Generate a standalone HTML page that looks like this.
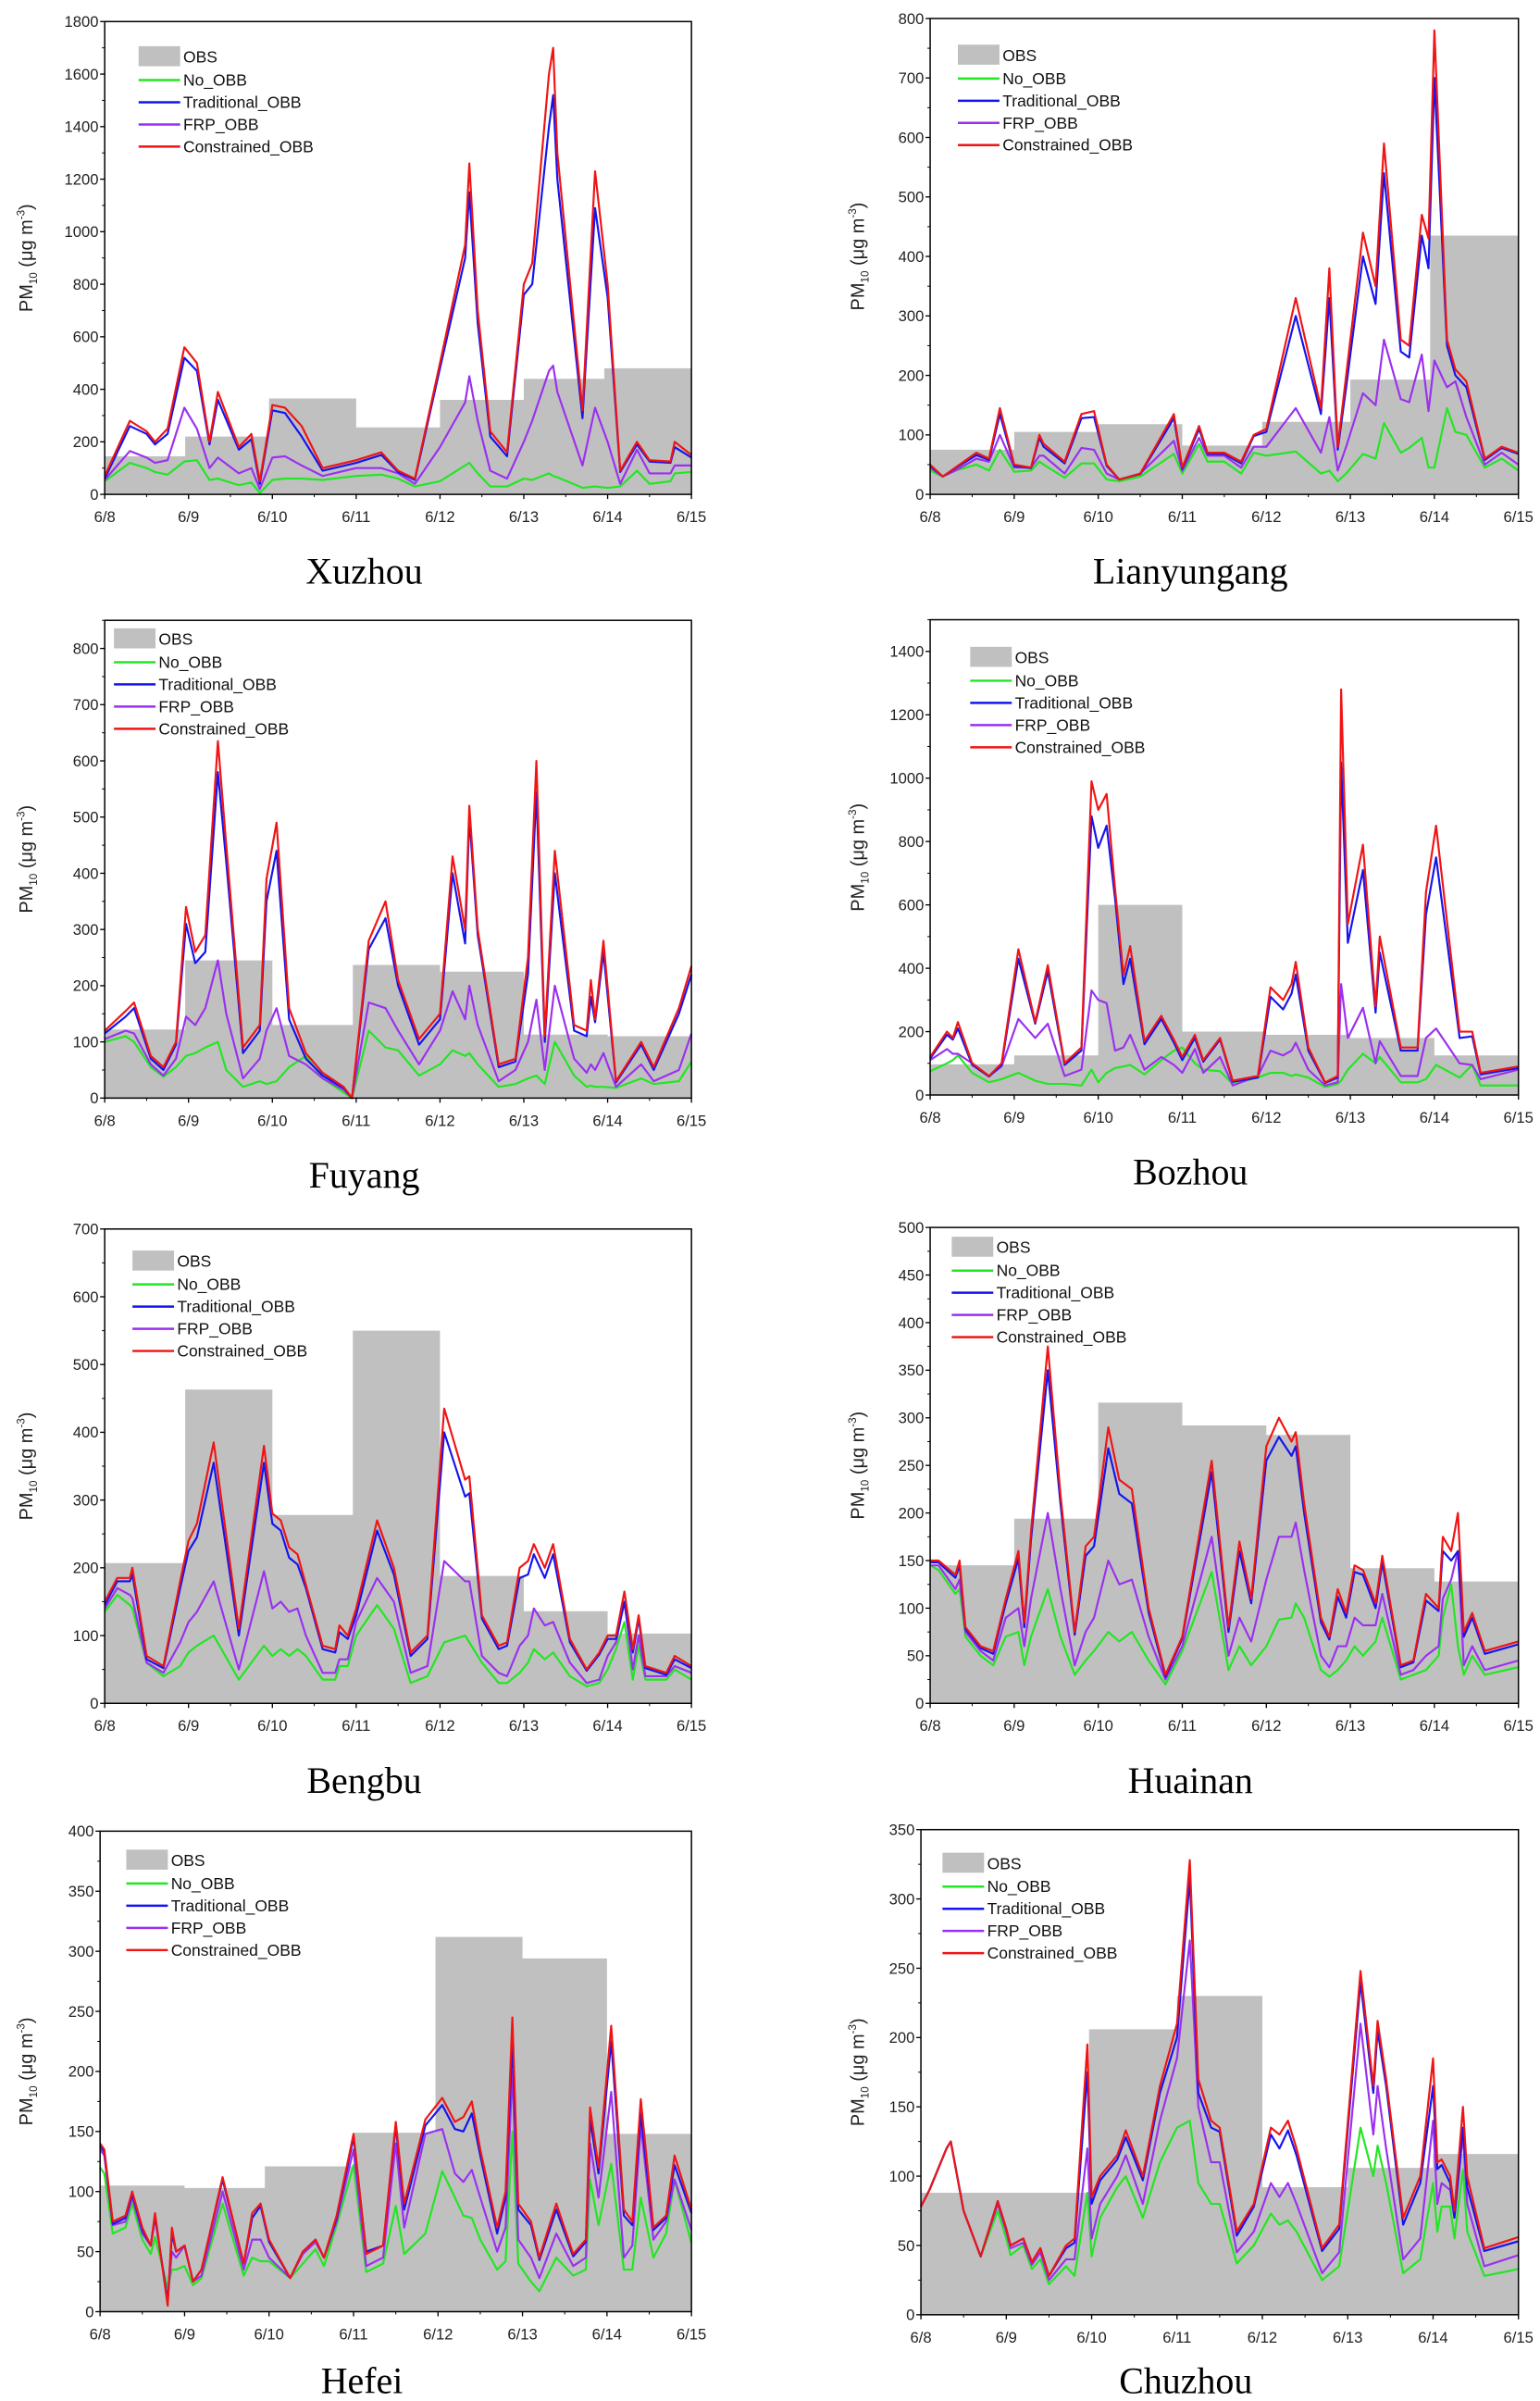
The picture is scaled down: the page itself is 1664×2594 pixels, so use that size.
<!DOCTYPE html>
<html><head><meta charset="utf-8"><style>
html,body{margin:0;padding:0;background:#fff;}
svg{display:block;}
</style></head><body>
<svg id="fig" xmlns="http://www.w3.org/2000/svg" width="1664" height="2594" viewBox="0 0 1000 1559" preserveAspectRatio="none"></svg>
<script>
// ===== Data (time in days since 6/8, PM10 values) =====
const xTickLabels = ["6/8","6/9","6/10","6/11","6/12","6/13","6/14","6/15"];
const seriesNames = ["OBS","No_OBB","Traditional_OBB","FRP_OBB","Constrained_OBB"];

const xuzhouT = [0,.3,.5,.6,.75,.95,1.1,1.25,1.35,1.6,1.75,1.85,2.0,2.15,2.35,2.6,3.0,3.3,3.5,3.7,4.0,4.3,4.35,4.45,4.6,4.8,5.0,5.1,5.3,5.35,5.4,5.7,5.85,6.0,6.15,6.35,6.5,6.75,6.8,7.0];
const xuzhouCon = [70,280,240,200,250,560,500,200,390,180,230,50,340,330,260,100,130,160,90,60,500,950,1260,700,240,160,800,880,1600,1700,1300,320,1230,800,90,200,130,125,200,150];
const xuzhouTrad = [60,260,230,190,230,520,470,190,360,170,210,40,320,310,220,90,120,150,85,55,480,900,1150,650,220,145,760,800,1400,1520,1200,290,1090,750,85,190,125,120,180,140];
const xuzhouFrp = [55,165,140,120,130,330,250,100,140,80,100,20,140,145,110,70,100,100,80,40,180,350,450,280,90,60,200,280,470,490,390,110,330,200,40,170,80,80,110,110];
const xuzhouNo = [50,120,100,85,75,125,130,55,60,35,45,5,55,60,60,55,70,75,60,30,50,110,120,80,30,30,60,55,80,70,65,25,30,25,30,90,40,50,80,85];
const xuzhouObsStart = [0,0.96,1.96,3.0,4.0,5.0,5.96];
const xuzhouObs = [145,220,365,255,360,440,480];

const lianT = [0,.15,.3,.55,.7,.83,1.0,1.2,1.3,1.35,1.6,1.8,1.95,2.1,2.25,2.5,2.9,3.0,3.2,3.3,3.5,3.7,3.85,4.0,4.35,4.65,4.75,4.85,4.95,5.15,5.3,5.4,5.6,5.7,5.85,5.93,6.0,6.15,6.25,6.38,6.6,6.8,7.0];
const lianCon = [50,30,45,70,60,145,50,45,100,85,55,135,140,50,25,35,135,45,115,70,70,55,100,110,330,145,380,80,200,440,350,590,260,250,470,430,780,260,210,190,60,80,70];
const lianTrad = [48,30,44,66,58,135,48,44,95,80,52,128,130,48,25,34,128,43,110,68,68,52,98,105,300,135,330,75,180,400,320,540,240,230,435,380,700,250,200,180,58,78,68];
const lianFrp = [45,30,40,60,55,100,45,45,65,65,35,78,75,35,25,35,90,40,95,65,65,45,80,80,145,70,130,40,80,170,150,260,160,155,235,140,225,180,190,130,50,70,50];
const lianNo = [40,30,40,50,40,75,38,40,55,50,28,52,52,25,22,30,68,35,85,55,55,35,70,65,72,35,40,22,35,68,60,120,70,78,95,45,45,145,105,100,45,60,40];
const lianObsStart = [0,1,2,3,3.95,5,5.95];
const lianObs = [75,105,118,82,122,193,435];

const fuyangT = [0,.25,.35,.55,.7,.85,.97,1.08,1.2,1.35,1.45,1.65,1.85,1.93,2.05,2.2,2.4,2.6,2.85,2.95,3.15,3.35,3.5,3.75,4.0,4.15,4.3,4.35,4.45,4.7,4.9,5.05,5.15,5.25,5.37,5.6,5.75,5.8,5.85,5.95,6.1,6.4,6.55,6.85,7.0];
const fuyangCon = [120,155,170,75,55,100,340,260,290,635,450,90,130,390,490,160,80,45,20,0,280,350,210,105,150,430,300,520,300,60,70,250,600,110,440,130,120,210,140,280,30,100,55,160,235];
const fuyangTrad = [115,145,160,70,50,95,310,240,260,580,420,80,120,350,440,140,70,40,18,0,265,320,200,95,140,400,275,500,290,55,65,220,545,100,400,120,110,180,135,260,28,95,50,150,220];
const fuyangFrp = [105,120,115,60,40,70,145,130,160,245,150,35,70,120,160,75,60,35,15,0,170,160,120,60,120,190,140,200,130,30,50,100,175,50,200,70,45,60,50,80,20,60,30,50,115];
const fuyangNo = [100,110,100,55,38,55,75,80,90,100,50,20,30,25,30,55,75,35,10,0,120,90,85,40,60,85,75,80,60,20,25,35,40,25,100,40,20,22,20,20,18,35,25,30,65];
const fuyangObsStart = [0,0.96,2.0,2.96,4.0,5.0,6.0];
const fuyangObs = [122,245,130,237,225,113,110];

const bozhouT = [0,.2,.27,.33,.5,.7,.85,1.05,1.25,1.4,1.6,1.8,1.92,2.0,2.1,2.2,2.3,2.38,2.55,2.75,2.9,3.0,3.15,3.25,3.45,3.6,3.9,4.05,4.2,4.3,4.35,4.5,4.7,4.85,4.89,4.97,5.15,5.3,5.35,5.6,5.8,5.9,6.02,6.3,6.45,6.55,7.0];
const bozhouCon = [120,200,180,230,100,60,100,460,230,410,100,150,990,900,950,650,380,470,170,250,175,120,190,110,180,45,60,340,300,350,420,150,40,60,1280,540,790,280,500,150,150,640,850,200,200,70,90];
const bozhouTrad = [115,190,175,210,95,58,95,430,225,390,95,140,880,780,850,620,350,430,160,240,165,110,180,105,175,42,55,310,270,320,380,140,38,55,1050,480,710,260,450,140,140,570,750,180,185,65,85];
const bozhouFrp = [110,145,130,130,100,60,90,240,180,225,60,80,330,300,290,140,150,190,80,120,95,70,145,70,120,30,60,140,125,140,165,80,30,40,350,180,275,100,170,60,60,180,210,100,95,50,80];
const bozhouNo = [75,100,110,125,70,40,50,70,45,35,35,30,80,40,70,85,90,95,65,110,140,150,100,80,75,35,55,70,70,60,65,55,25,35,45,80,130,100,120,40,40,50,95,55,95,30,30];
const bozhouObsStart = [0,1,2,3,4,5,6];
const bozhouObs = [97,125,600,200,190,180,125];

const bengbuT = [0,.15,.3,.33,.5,.7,.9,1.0,1.1,1.3,1.6,1.9,2.0,2.1,2.2,2.3,2.4,2.6,2.75,2.8,2.9,3.0,3.25,3.45,3.65,3.85,4.05,4.3,4.35,4.5,4.7,4.8,4.95,5.05,5.12,5.25,5.35,5.55,5.75,5.9,6.0,6.1,6.2,6.3,6.37,6.45,6.7,6.8,7.0];
const bengbuCon = [150,185,185,200,70,55,180,240,265,385,110,380,280,270,230,220,175,85,80,115,100,140,270,200,75,100,435,330,335,130,85,90,200,210,235,200,235,95,50,75,100,100,165,80,130,55,45,70,55];
const bengbuTrad = [145,180,180,190,65,52,170,225,245,355,100,355,265,255,215,205,170,80,75,105,95,130,255,190,70,95,400,305,310,125,80,85,185,190,220,185,220,90,48,72,95,95,150,75,125,52,42,65,52];
const bengbuFrp = [140,170,160,155,60,45,90,120,135,180,50,195,140,150,135,140,100,45,45,65,65,120,185,150,45,55,210,180,180,70,45,40,85,100,140,115,120,60,30,35,70,90,150,50,100,40,40,55,45];
const bengbuNo = [135,160,145,140,60,40,55,75,85,100,35,85,70,80,70,80,70,35,35,55,55,100,145,110,30,40,90,100,90,60,30,30,45,60,80,65,75,40,25,30,50,80,120,35,85,35,35,50,35];
const bengbuObsStart = [0,0.96,2.0,2.96,4.0,5.0,6.0];
const bengbuObs = [207,463,278,550,188,136,103];

const huainanT = [0,.1,.3,.35,.42,.6,.75,.9,1.05,1.12,1.2,1.4,1.55,1.72,1.85,1.95,2.12,2.25,2.4,2.6,2.8,3.0,3.35,3.55,3.68,3.82,4.0,4.15,4.3,4.35,4.45,4.65,4.75,4.85,4.95,5.05,5.15,5.3,5.38,5.6,5.75,5.9,6.05,6.1,6.2,6.28,6.35,6.45,6.6,7.0];
const huainanCon = [150,150,135,150,80,60,55,110,160,85,180,375,220,75,165,175,290,235,225,100,30,70,255,80,170,110,270,300,275,285,210,90,70,120,95,145,140,105,155,40,45,115,100,175,160,200,75,95,55,65];
const huainanTrad = [148,148,132,145,78,58,52,105,152,80,172,350,210,72,155,165,268,220,210,95,28,68,243,75,160,105,255,280,260,270,200,85,67,112,90,138,135,100,148,38,43,108,97,160,150,160,70,90,52,62];
const huainanFrp = [145,145,120,130,75,55,45,90,100,60,110,200,120,40,75,90,150,125,130,70,25,60,175,50,90,65,130,175,175,190,140,50,38,60,60,90,82,82,115,30,35,50,60,110,130,160,40,60,35,45];
const huainanNo = [145,140,115,120,70,50,40,70,75,40,70,120,70,30,45,55,75,65,75,45,20,55,138,35,60,40,60,88,90,105,90,35,28,35,45,60,50,65,90,25,30,35,50,90,125,60,30,50,30,38];
const huainanObsStart = [0,1,2,3,4,5,6];
const huainanObs = [145,194,316,292,282,142,128];

const hefeiT = [0,.05,.15,.3,.38,.5,.6,.65,.8,.85,.9,1.0,1.1,1.2,1.45,1.7,1.8,1.9,2.0,2.25,2.4,2.55,2.65,2.8,3.0,3.15,3.35,3.5,3.6,3.85,4.05,4.2,4.3,4.4,4.5,4.7,4.8,4.88,4.95,5.1,5.2,5.4,5.6,5.75,5.8,5.9,6.05,6.2,6.3,6.4,6.55,6.7,6.8,7.0];
const hefeiCon = [140,135,75,80,100,70,55,82,5,70,50,55,25,35,112,40,82,90,60,28,50,60,45,80,148,48,55,158,90,160,178,158,162,175,135,70,100,245,90,75,45,90,48,60,170,120,238,85,75,177,70,80,130,85];
const hefeiTrad = [138,133,73,78,98,68,55,80,8,65,50,55,25,35,110,40,78,88,58,28,50,60,45,78,145,50,55,155,85,155,172,152,150,165,130,65,95,225,85,72,43,85,46,58,160,115,225,80,72,165,68,78,122,82];
const hefeiFrp = [135,130,72,75,95,65,55,78,10,50,45,55,25,30,100,35,60,60,45,28,48,58,45,75,135,38,45,140,70,148,152,115,108,118,95,50,70,200,60,45,28,65,38,45,140,95,183,45,55,155,60,75,110,68];
const hefeiNo = [120,115,65,70,90,60,48,62,20,35,35,38,22,28,90,30,45,42,42,28,40,52,38,72,122,33,40,88,48,65,117,95,80,78,60,35,42,150,40,25,17,45,30,35,110,72,123,35,35,95,45,65,110,57];
const hefeiObsStart = [0,1,1.95,3.0,3.97,5.0,6.0];
const hefeiObs = [105,103,121,149,312,294,148];

const chuzhouT = [0,.1,.3,.35,.5,.7,.9,1.0,1.05,1.2,1.3,1.4,1.5,1.7,1.8,1.95,2.0,2.1,2.3,2.4,2.6,2.8,3.0,3.15,3.25,3.4,3.5,3.7,3.9,4.1,4.2,4.3,4.4,4.7,4.9,5.15,5.3,5.35,5.45,5.65,5.85,6.0,6.05,6.1,6.2,6.25,6.35,6.4,6.6,7.0];
const chuzhouCon = [78,90,120,125,75,42,82,62,50,55,38,48,28,50,55,195,85,100,115,133,100,165,210,328,170,140,135,60,80,135,130,140,120,48,65,248,165,212,170,70,100,185,110,112,100,75,150,100,48,56];
const chuzhouTrad = [78,90,120,125,75,42,82,62,50,55,38,48,28,48,52,175,80,97,112,128,97,160,200,315,160,135,132,57,78,130,120,133,115,46,62,240,160,205,165,65,95,165,105,108,95,70,135,92,46,53];
const chuzhouFrp = [78,90,120,125,75,42,80,60,48,52,36,45,25,40,40,120,55,80,100,115,80,140,185,270,150,110,110,45,60,95,85,95,80,30,45,210,130,165,120,40,55,140,80,95,90,70,130,80,35,43];
const chuzhouNo = [78,90,120,125,75,42,75,55,43,50,33,40,22,35,28,88,42,70,92,100,70,110,135,140,95,80,80,37,50,73,65,68,60,25,35,135,100,122,95,30,40,95,60,78,78,55,105,60,28,33];
const chuzhouObsStart = [0,1.97,3.0,4.0,5.0,6.0];
const chuzhouObs = [88,206,230,92,106,116];

// ===== Layout (thumbnail units; viewBox 1000x1559) =====
const panels = [
 {id:"xuzhou",title:"Xuzhou",x0:68,x1:449,yT:14,yB:321,ymax:1800,step:200,lx:90,ly:30,tdy:58,t:xuzhouT,no:xuzhouNo,tr:xuzhouTrad,frp:xuzhouFrp,con:xuzhouCon,os:xuzhouObsStart,ov:xuzhouObs},
 {id:"lianyungang",title:"Lianyungang",x0:604,x1:986,yT:12,yB:321,ymax:800,step:100,lx:622,ly:29,tdy:58,t:lianT,no:lianNo,tr:lianTrad,frp:lianFrp,con:lianCon,os:lianObsStart,ov:lianObs},
 {id:"fuyang",title:"Fuyang",x0:68,x1:449,yT:402.8,yB:713,ymax:850,step:100,lx:74,ly:408,tdy:58,t:fuyangT,no:fuyangNo,tr:fuyangTrad,frp:fuyangFrp,con:fuyangCon,os:fuyangObsStart,ov:fuyangObs},
 {id:"bozhou",title:"Bozhou",x0:604,x1:986,yT:402.4,yB:711,ymax:1500,step:200,lx:630,ly:420,tdy:58,t:bozhouT,no:bozhouNo,tr:bozhouTrad,frp:bozhouFrp,con:bozhouCon,os:bozhouObsStart,ov:bozhouObs},
 {id:"bengbu",title:"Bengbu",x0:68,x1:449,yT:798,yB:1106,ymax:700,step:100,lx:86,ly:812,tdy:58,t:bengbuT,no:bengbuNo,tr:bengbuTrad,frp:bengbuFrp,con:bengbuCon,os:bengbuObsStart,ov:bengbuObs},
 {id:"huainan",title:"Huainan",x0:604,x1:986,yT:797,yB:1106,ymax:500,step:50,lx:618,ly:803,tdy:58,t:huainanT,no:huainanNo,tr:huainanTrad,frp:huainanFrp,con:huainanCon,os:huainanObsStart,ov:huainanObs},
 {id:"hefei",title:"Hefei",x0:65,x1:449,yT:1189,yB:1501,ymax:400,step:50,lx:82,ly:1201,tdy:53,t:hefeiT,no:hefeiNo,tr:hefeiTrad,frp:hefeiFrp,con:hefeiCon,os:hefeiObsStart,ov:hefeiObs},
 {id:"chuzhou",title:"Chuzhou",x0:598,x1:986,yT:1188,yB:1503,ymax:350,step:50,lx:612,ly:1203,tdy:51,t:chuzhouT,no:chuzhouNo,tr:chuzhouTrad,frp:chuzhouFrp,con:chuzhouCon,os:chuzhouObsStart,ov:chuzhouObs}
];
const NS="http://www.w3.org/2000/svg";
const svg=document.getElementById("fig");
function mk(tag,attrs,parent){const e=document.createElementNS(NS,tag);for(const k in attrs)e.setAttribute(k,attrs[k]);(parent||svg).appendChild(e);return e;}
const SANS='"Liberation Sans", Arial, sans-serif';
const colors={no:"#22e622",tr:"#1414f0",frp:"#9b30f0",con:"#f01414"};

panels.forEach(p=>{
  const g=mk("g",{});
  
  
  const xs=t=>p.x0+(p.x1-p.x0)*t/7;
  const ys=v=>p.yB-(p.yB-p.yT)*v/p.ymax;
  let d="M"+xs(p.os[0])+","+ys(0);
  for(let i=0;i<p.ov.length;i++){const a=p.os[i],b=(i+1<p.os.length)?p.os[i+1]:7;d+=" L"+xs(a)+","+ys(p.ov[i])+" L"+xs(b)+","+ys(p.ov[i]);}
  d+=" L"+xs(7)+","+ys(0)+" Z";
  const obs=mk("path",{d:d,fill:"#c0c0c0",stroke:"none"},g);
  
  
  [["no","No_OBB"],["frp","FRP_OBB"],["tr","Traditional_OBB"],["con","Constrained_OBB"]].forEach(([k,nm])=>{
    const vals=p[k];let pd="";
    for(let i=0;i<p.t.length;i++)pd+=(i?" L":"M")+xs(p.t[i]).toFixed(2)+","+ys(vals[i]).toFixed(2);
    const ln=mk("path",{d:pd,fill:"none",stroke:colors[k],"stroke-width":1.3,"stroke-linejoin":"round"},g);
    
    
  });
  const fr=mk("rect",{x:p.x0,y:p.yT,width:p.x1-p.x0,height:p.yB-p.yT,fill:"none",stroke:"#000","stroke-width":0.9},g);
  
  
  for(let v=0;v<=p.ymax+0.001;v+=p.step){
    const y=ys(v);
    mk("line",{x1:p.x0-3,x2:p.x0,y1:y,y2:y,stroke:"#000","stroke-width":0.8},g);
    const tl=mk("text",{x:p.x0-4,y:y+3.5,"text-anchor":"end","font-size":10,"font-family":SANS,fill:"#222"},g);
    tl.textContent=String(v);
    
    
  }
  for(let v=p.step/2;v<=p.ymax;v+=p.step){const y=ys(v);mk("line",{x1:p.x0-1.8,x2:p.x0,y1:y,y2:y,stroke:"#000","stroke-width":0.6},g);}
  xTickLabels.forEach((lab,i)=>{
    const x=xs(i);
    mk("line",{x1:x,x2:x,y1:p.yB,y2:p.yB+3,stroke:"#000","stroke-width":0.8},g);
    if(i<7) mk("line",{x1:xs(i+0.5),x2:xs(i+0.5),y1:p.yB,y2:p.yB+1.8,stroke:"#000","stroke-width":0.6},g);
    const tl=mk("text",{x:x,y:p.yB+18,"text-anchor":"middle","font-size":10,"font-family":SANS,fill:"#222"},g);
    tl.textContent=lab;
    
    
  });
  const yc=(p.yT+p.yB)/2, yx=p.x0<300?17:557;
  const yt=mk("text",{x:0,y:0,transform:"translate("+(yx+4)+","+yc+") rotate(-90)","text-anchor":"middle","font-size":12,"font-family":SANS,fill:"#222"},g);
  
  
  const s1=mk("tspan",{},yt);s1.textContent="PM";
  const s2=mk("tspan",{"font-size":7,dy:3},yt);s2.textContent="10";
  const s3=mk("tspan",{dy:-3},yt);s3.textContent=" (\u03bcg m";
  const s4=mk("tspan",{"font-size":7,dy:-5},yt);s4.textContent="-3";
  const s5=mk("tspan",{dy:5},yt);s5.textContent=")";
  const lg=mk("g",{},g);
  
  
  mk("rect",{x:p.lx,y:p.ly,width:27,height:13,fill:"#c0c0c0"},lg);
  const lc=[null,"no","tr","frp","con"];
  seriesNames.forEach((nm,i)=>{
    const ry=i===0?p.ly+7:p.ly+22+(i-1)*14.4;
    if(i>0) mk("line",{x1:p.lx,x2:p.lx+27,y1:ry,y2:ry,stroke:colors[lc[i]],"stroke-width":1.5},lg);
    const lt=mk("text",{x:p.lx+29,y:ry+3.6,"font-size":10.5,"font-family":SANS,fill:"#111"},lg);
    lt.textContent=nm;
    
    
  });
  const ct=mk("text",{x:(p.x0+p.x1)/2-22,y:p.yB+p.tdy,"text-anchor":"middle","font-size":24,"font-family":'"Liberation Serif", "Times New Roman", serif',fill:"#000"},g);
  ct.textContent=p.title;
  
  
});
</script>
</body></html>
